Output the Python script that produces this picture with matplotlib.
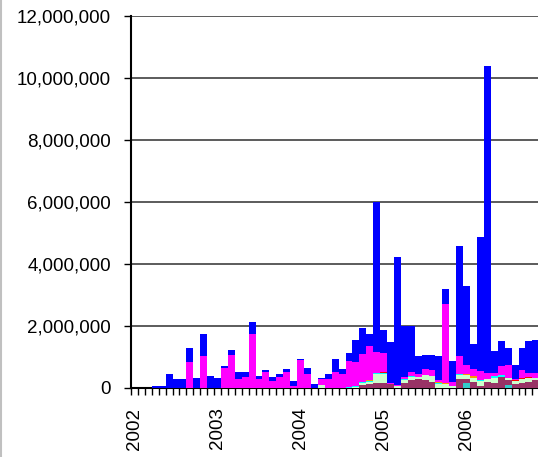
import matplotlib
matplotlib.use('Agg')
import matplotlib.pyplot as plt
import numpy as np

plt.rcParams['font.family'] = ['Liberation Sans', 'DejaVu Sans']

# monthly values, thousands, Jan 2002 .. Dec 2006
years = ['2002', '2003', '2004', '2005', '2006']
teal = [0]*48 + [130, 0, 0, 0, 0, 0, 70, 0, 0, 0, 0, 0]
maroon = [0]*30 + [0, 0, 0, 80, 100, 130, 150, 100, 0, 130,
                   230, 260, 240, 185, 0, 0, 0, 260, 160, 180,
                   40, 180, 150, 340, 170, 120, 140, 180, 250, 200]
lgreen = [0]*27 + [90, 0, 0] + [0, 0, 30, 60, 75, 320, 300, 0, 60, 100,
                               100, 85, 160, 180, 120, 100, 60, 140, 110, 140,
                               170, 100, 170, 0, 60, 100, 120, 130, 60, 80]
cyan = [0]*30 + [0, 10, 30, 30, 20, 20, 30, 0, 0, 30,
                 30, 0, 0, 0, 30, 0, 0, 40, 0, 0,
                 40, 0, 60, 50, 0, 0, 0, 0, 0, 0]
orange = [0]*30 + [0, 0, 0, 0, 60, 0, 0, 0, 0, 0,
                   0, 0, 0, 0, 40, 40, 0, 0, 40, 40,
                   0, 0, 0, 0, 0, 0, 0, 0, 0, 0]
red = [0]*30 + [0, 0, 0, 0, 0, 0, 20, 0, 0, 0,
                0, 0, 0, 0, 0, 0, 0, 0, 0, 0,
                0, 0, 0, 0, 0, 20, 40, 40, 0, 0]
magenta = [0, 0, 0, 0, 0, 0, 0, 0, 830, 0,
           1010, 0, 0, 645, 1050, 260, 345, 1740, 280, 505,
           205, 345, 505, 40, 880, 430, 0, 170, 280, 505,
           450, 830, 770, 905, 1075, 680, 600, 30, 20, 80,
           150, 100, 200, 215, 50, 2570, 120, 570, 300, 230,
           277, 193, 104, 310, 442, 30, 250, 134, 174, 200]
blue = [0, 0, 0, 50, 50, 430, 280, 280, 450, 320,
        720, 365, 320, 45, 150, 245, 160, 370, 85, 55,
        130, 75, 85, 155, 35, 215, 100, 60, 140, 410,
        140, 270, 700, 845, 400, 4830, 770, 1330, 4150, 1660,
        1490, 565, 450, 470, 770, 480, 680, 3550, 2530, 830,
        4333, 9907, 696, 810, 538, 472, 730, 1026, 1066, 1070]

series = [teal, maroon, lgreen, cyan, orange, red, magenta, blue]
colors = ['#33CCCC', '#993366', '#CCFFCC', '#00FFFF', '#FF9900', '#FF0000', '#FF00FF', '#0000FF']

fig = plt.figure(figsize=(5.38, 4.57), dpi=100)
ax = fig.add_axes([131/538, 69.5/457, 60*6.92/538, 371.5/457])

x = np.arange(len(blue))
bottom = np.zeros(len(blue))
for vals, col in zip(series, colors):
    v = np.array(vals) * 1000.0
    ax.bar(x, v, width=1.0, bottom=bottom, color=col, edgecolor='none', zorder=3)
    bottom += v

ax.set_xlim(-0.5, len(blue) - 0.5)
ax.set_ylim(0, 12000000)
ax.set_yticks(np.arange(0, 12000001, 2000000))
ax.set_yticklabels(['{:,}'.format(int(t)) for t in np.arange(0, 12000001, 2000000)], fontsize=13.5)
ax.yaxis.grid(True, color='#404040', linewidth=1.2, zorder=0)
ax.set_axisbelow(True)

ax.set_xticks(np.arange(-0.5, len(blue)))
ax.set_xticklabels([])
ax.set_xticks([0, 12, 24, 36, 48], minor=True)
ax.set_xticklabels(years, minor=True, rotation=90, fontsize=13.5, va='top', ha='center')
ax.tick_params(axis='x', which='major', length=5, width=1, direction='out')
ax.tick_params(axis='x', which='minor', length=0, pad=14.4)
ax.tick_params(axis='y', length=5, width=1, pad=9.4, direction='out')

for s in ['top', 'right']:
    ax.spines[s].set_visible(False)
ax.spines['left'].set_linewidth(1.5)
ax.spines['bottom'].set_linewidth(1.5)

# thin border at left edge of picture
fig.add_artist(plt.Line2D([0.001, 0.001], [0, 1], color='#C0C0C0', linewidth=1.5))

fig.savefig('out.png', dpi=100)
